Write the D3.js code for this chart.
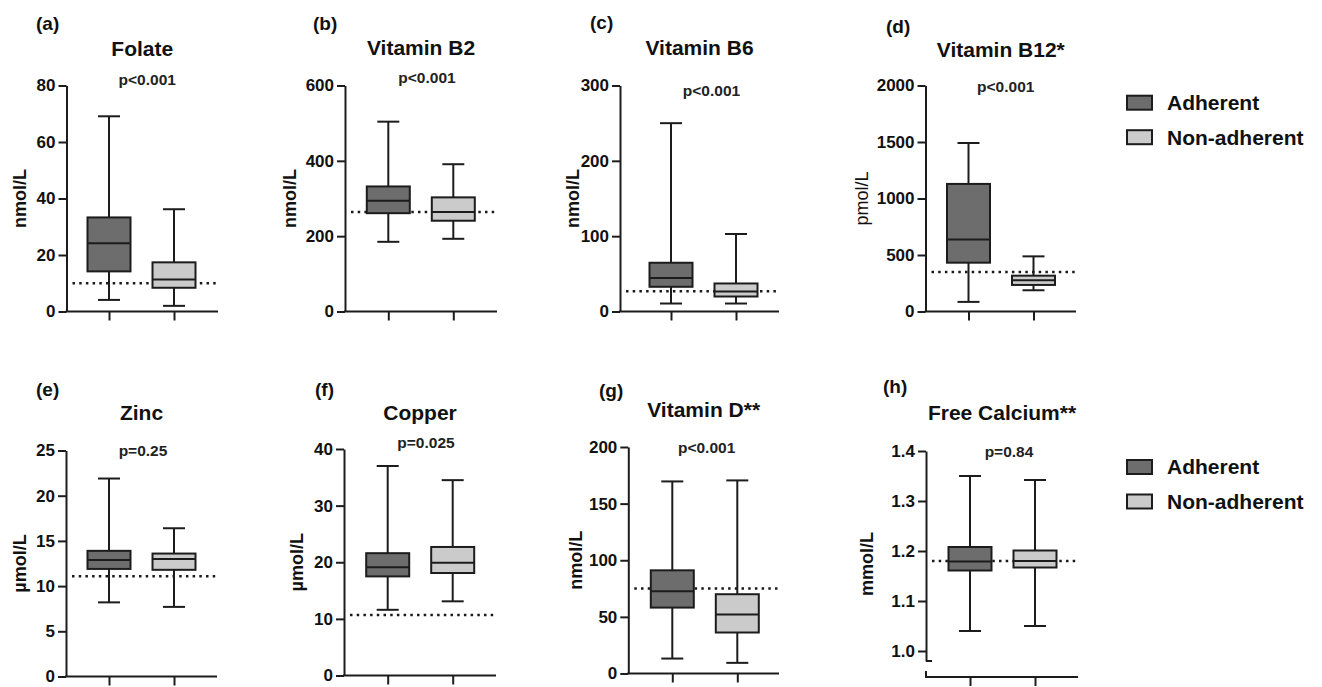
<!DOCTYPE html>
<html>
<head>
<meta charset="utf-8">
<script src="https://cdn.jsdelivr.net/npm/d3@7"></script>
<style>
  body { margin: 0; background: #fff; }
  svg { display: block; font-family: "Liberation Sans", Arial, sans-serif; }
</style>
</head>
<body>
<figure id="box-panels" style="margin:0"></figure>
<script>
// data
const groups = ['Adherent', 'Non-adherent'];
const panelLabels = ['(a)', '(b)', '(c)', '(d)', '(e)', '(f)', '(g)', '(h)'];
const titles = ['Folate', 'Vitamin B2', 'Vitamin B6', 'Vitamin B12*', 'Zinc', 'Copper', 'Vitamin D**', 'Free Calcium**'];
const units = ['nmol/L', 'nmol/L', 'nmol/L', 'pmol/L', 'µmol/L', 'µmol/L', 'nmol/L', 'mmol/L'];
const pValues = ['p<0.001', 'p<0.001', 'p<0.001', 'p<0.001', 'p=0.25', 'p=0.025', 'p<0.001', 'p=0.84'];
const yTicks = [
  [0, 20, 40, 60, 80],
  [0, 200, 400, 600],
  [0, 100, 200, 300],
  [0, 500, 1000, 1500, 2000],
  [0, 5, 10, 15, 20, 25],
  [0, 10, 20, 30, 40],
  [0, 50, 100, 150, 200],
  [1.0, 1.1, 1.2, 1.3, 1.4]
];
const yFloor = [0, 0, 0, 0, 0, 0, 0, 0.98];
const refValues = [10, 264, 27, 350, 11.1, 10.7, 75, 1.18];
// [min, q1, median, q3, max]
const adherent = [
  [4.1, 14.2, 24.2, 33.3, 69.1],
  [185, 261, 294, 332, 504],
  [10.6, 32.8, 44.4, 64.7, 250],
  [85, 432, 638, 1129, 1491],
  [8.2, 11.9, 12.9, 13.9, 21.9],
  [11.6, 17.5, 19.1, 21.6, 37.0],
  [13.2, 58.2, 72.6, 91.1, 169.6],
  [1.04, 1.161, 1.179, 1.208, 1.35]
];
const nonAdherent = [
  [2.0, 8.4, 11.3, 17.4, 36.2],
  [193, 241, 264, 303, 391],
  [10.6, 19.9, 26.6, 37.2, 102.9],
  [188, 235, 276, 317, 488],
  [7.7, 11.8, 13.0, 13.6, 16.4],
  [13.1, 18.1, 19.9, 22.7, 34.5],
  [9.4, 36.2, 52, 70, 170.5],
  [1.05, 1.167, 1.18, 1.201, 1.342]
];

// page layout for each panel
const panelPos = [
  {ax: 66.5, end: 218, top: 85.5, base: 311.5, c0: 42.5, lblX: 36, lblY: 23, pDx: 5, pY: 80, titleY: 56, unitDx: -46.5},
  {ax: 345, end: 497, top: 85.5, base: 311.5, c0: 43.3, lblX: 313, lblY: 23, pDx: 6, pY: 78, titleY: 55, unitDx: -55},
  {ax: 620, end: 779, top: 85.5, base: 311.5, c0: 51, lblX: 590, lblY: 22, pDx: 12, pY: 91, titleY: 55, unitDx: -47},
  {ax: 925.5, end: 1076, top: 85.5, base: 311.5, c0: 43, lblX: 886, lblY: 26, pDx: 5, pY: 87, titleY: 56.5, unitDx: -64},
  {ax: 66, end: 217, top: 450.5, base: 676.5, c0: 43, lblX: 36, lblY: 389, pDx: 1.5, pY: 450.5, titleY: 420, unitDx: -46},
  {ax: 344, end: 496, top: 449, base: 675.5, c0: 43.7, lblX: 315, lblY: 389, pDx: 6, pY: 443, titleY: 420, unitDx: -47},
  {ax: 628.3, end: 779, top: 447, base: 673.5, c0: 44, lblX: 599, lblY: 390, pDx: 3, pY: 447.5, titleY: 417, unitDx: -53},
  {ax: 926, end: 1078, top: 451, base: 661, c0: 44, lblX: 883, lblY: 386.5, pDx: 7, pY: 451.5, titleY: 420, unitDx: -59, xAxisY: 677}
];

const width = 1322;
const height = 687;
const fills = ['#6d6d6d', '#cbcbcb'];
const ink = '#1c1c1c';
const boxW = 43;
const capW = 22;

const svg = d3.select('figure#box-panels')
  .append('svg')
  .attr('width', width)
  .attr('height', height);

svg.append('rect').attr('width', width).attr('height', height).attr('fill', '#fff');

panelPos.forEach((p, i) => {
  const g = svg.append('g');
  const xAxisY = p.xAxisY || p.base;
  const ticks = yTicks[i];

  const y = d3.scaleLinear()
    .domain([yFloor[i], ticks[ticks.length - 1]])
    .range([p.base, p.top]);

  const x = d3.scalePoint()
    .domain(groups)
    .range([p.ax + p.c0, p.ax + p.c0 + 65]);

  // y axis
  const fmt = i === 7 ? d3.format('.1f') : d3.format('d');
  g.append('g')
    .attr('transform', 'translate(' + p.ax + ',0)')
    .call(d3.axisLeft(y).tickValues(ticks).tickFormat(fmt).tickSize(8).tickSizeOuter(0).tickPadding(3))
    .call(a => a.select('.domain').attr('stroke', ink).attr('stroke-width', 2))
    .call(a => a.selectAll('.tick line').attr('stroke', ink).attr('stroke-width', 2))
    .call(a => a.selectAll('.tick text')
      .attr('fill', '#111')
      .style('font-size', '17px')
      .style('font-weight', 'bold')
      .style('font-family', '"Liberation Sans", Arial, sans-serif'));

  // x axis
  g.append('line')
    .attr('x1', p.ax - 1).attr('x2', p.end)
    .attr('y1', xAxisY).attr('y2', xAxisY)
    .attr('stroke', ink).attr('stroke-width', 2);

  g.append('g')
    .attr('transform', 'translate(0,' + xAxisY + ')')
    .call(d3.axisBottom(x).tickSize(9).tickFormat(''))
    .call(a => a.select('.domain').remove())
    .call(a => a.selectAll('.tick line').attr('stroke', ink).attr('stroke-width', 2));

  if (p.xAxisY) {
    // broken axis corner, as drawn by the original software
    g.append('line')
      .attr('x1', p.ax).attr('x2', p.ax + 6)
      .attr('y1', p.base).attr('y2', p.base)
      .attr('stroke', ink).attr('stroke-width', 2);
    g.append('line')
      .attr('x1', p.ax).attr('x2', p.ax)
      .attr('y1', xAxisY - 6).attr('y2', xAxisY)
      .attr('stroke', ink).attr('stroke-width', 2);
  }

  // reference line
  g.append('line')
    .attr('x1', p.ax + 6).attr('x2', p.end)
    .attr('y1', y(refValues[i])).attr('y2', y(refValues[i]))
    .attr('stroke', '#1a1a1a')
    .attr('stroke-width', 2.5)
    .attr('stroke-dasharray', '2.5 4.2');

  // boxes
  const stats = [adherent[i], nonAdherent[i]];
  const boxes = g.selectAll('.box')
    .data(stats)
    .join('g')
    .attr('class', 'box');

  boxes.append('line')
    .attr('x1', (d, j) => x(groups[j])).attr('x2', (d, j) => x(groups[j]))
    .attr('y1', d => y(d[0])).attr('y2', d => y(d[4]))
    .attr('stroke', ink).attr('stroke-width', 2);

  boxes.selectAll('.cap')
    .data((d, j) => [{v: d[0], j: j}, {v: d[4], j: j}])
    .join('line')
    .attr('class', 'cap')
    .attr('x1', d => x(groups[d.j]) - capW / 2).attr('x2', d => x(groups[d.j]) + capW / 2)
    .attr('y1', d => y(d.v)).attr('y2', d => y(d.v))
    .attr('stroke', ink).attr('stroke-width', 2);

  boxes.append('rect')
    .attr('x', (d, j) => x(groups[j]) - boxW / 2)
    .attr('width', boxW)
    .attr('y', d => y(d[3]))
    .attr('height', d => y(d[1]) - y(d[3]))
    .attr('fill', (d, j) => fills[j])
    .attr('stroke', ink).attr('stroke-width', 2);

  boxes.append('line')
    .attr('x1', (d, j) => x(groups[j]) - boxW / 2).attr('x2', (d, j) => x(groups[j]) + boxW / 2)
    .attr('y1', d => y(d[2])).attr('y2', d => y(d[2]))
    .attr('stroke', ink).attr('stroke-width', 2);

  // texts
  const mid = (p.ax + p.end) / 2;
  g.append('text')
    .attr('x', p.lblX).attr('y', p.lblY)
    .attr('dy', '0.35em')
    .style('font-size', '19px').style('font-weight', 'bold')
    .attr('fill', '#111')
    .text(panelLabels[i]);

  g.append('text')
    .attr('x', mid).attr('y', p.titleY)
    .attr('text-anchor', 'middle')
    .style('font-size', '21px').style('font-weight', 'bold')
    .attr('fill', '#111')
    .text(titles[i]);

  g.append('text')
    .attr('x', mid + p.pDx).attr('y', p.pY)
    .attr('dy', '0.35em')
    .attr('text-anchor', 'middle')
    .style('font-size', '15.5px').style('font-weight', 'bold')
    .attr('fill', '#222')
    .text(pValues[i]);

  g.append('text')
    .attr('transform', 'translate(' + (p.ax + p.unitDx) + ',' + ((p.top + xAxisY) / 2) + ') rotate(-90)')
    .attr('text-anchor', 'middle')
    .attr('dy', '0.35em')
    .style('font-size', '18px')
    .style('font-weight', i === 3 ? 'normal' : 'bold')
    .attr('fill', '#111')
    .text(units[i]);
});

// legends, one per row
[95.7, 460].forEach(top => {
  const lg = svg.append('g').attr('transform', 'translate(1127,' + top + ')');
  const item = lg.selectAll('g')
    .data(groups)
    .join('g')
    .attr('transform', (d, j) => 'translate(0,' + (j * 34.5) + ')');
  item.append('rect')
    .attr('width', 25).attr('height', 14)
    .attr('fill', (d, j) => fills[j])
    .attr('stroke', ink).attr('stroke-width', 2);
  item.append('text')
    .attr('x', 40).attr('y', 7)
    .attr('dy', '0.35em')
    .style('font-size', '21px').style('font-weight', 'bold')
    .attr('fill', '#111')
    .text(d => d);
});
</script>
</body>
</html>
